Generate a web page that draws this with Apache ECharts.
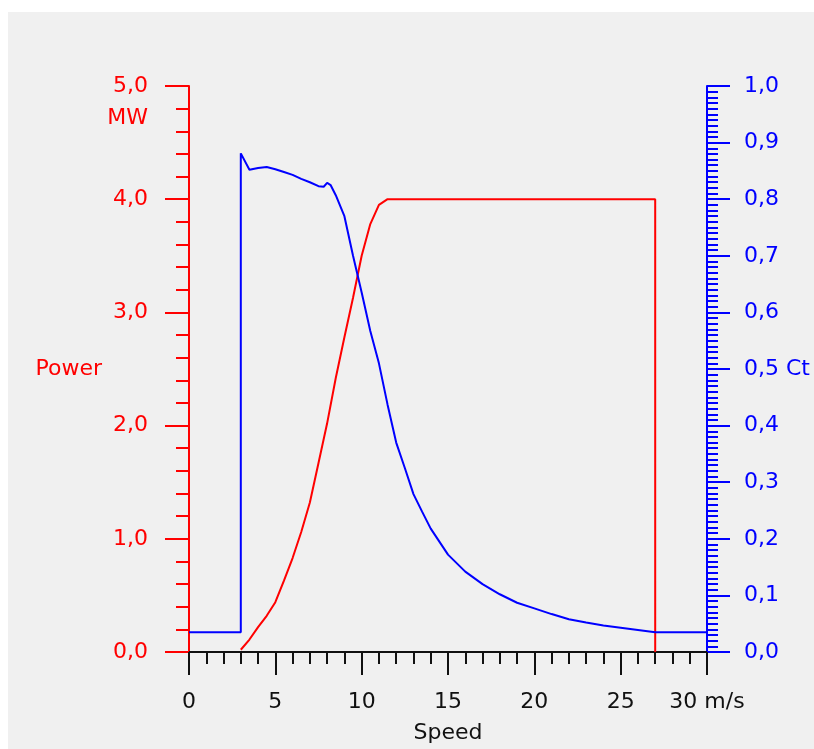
<!DOCTYPE html>
<html><head><meta charset="utf-8">
<script src="https://cdn.jsdelivr.net/npm/echarts@6/dist/echarts.min.js"></script>
<style>html,body{margin:0;padding:0;background:#fff}#c{width:814px;height:749px}</style>
</head><body><div id="c"></div>
<script>
// Power curve (MW) vs wind speed (m/s)
const powerSpeed = [3, 3.5, 4, 4.5, 5, 5.5, 6, 6.5, 7, 7.5, 8, 8.5, 9, 9.5, 10, 10.5, 11, 11.5, 27, 27];
const powerMW    = [0.02, 0.11, 0.22, 0.32, 0.44, 0.63, 0.83, 1.06, 1.32, 1.67, 2.02, 2.42, 2.78, 3.13, 3.50, 3.78, 3.95, 4.0, 4.0, 0];
// Thrust coefficient Ct vs wind speed
const ctSpeed = [0, 3, 3, 3.5, 4, 4.5, 5, 5.5, 6, 6.5, 7, 7.5, 7.8, 8, 8.2, 8.5, 9, 9.5, 10, 10.5, 11, 11.5, 12, 12.5, 13, 13.5, 14, 15, 16, 17, 18, 19, 20, 21, 22, 23, 24, 25, 26, 27, 30];
const ctValue = [0.035, 0.035, 0.881, 0.852, 0.855, 0.857, 0.853, 0.848, 0.843, 0.836, 0.830, 0.823, 0.822, 0.829, 0.825, 0.807, 0.770, 0.700, 0.635, 0.567, 0.510, 0.437, 0.370, 0.325, 0.279, 0.248, 0.218, 0.172, 0.142, 0.120, 0.102, 0.087, 0.077, 0.067, 0.058, 0.052, 0.047, 0.043, 0.039, 0.035, 0.035];
// Axis text
const xUnit = 'm/s';
const xName = 'Speed';
const yLeftName = 'Power';
const yLeftUnit = 'MW';
const yRightName = 'Ct';

const RED = '#ff0000', BLUE = '#0000ff', BLACK = '#111111';
const FONT = 'DejaVu Sans';
const FS = 22;
const comma = v => (Math.round(v * 10) / 10).toFixed(1).replace('.', ',');

const chart = echarts.init(document.getElementById('c'), null, {renderer: 'canvas'});
const option = {
  animation: false,
  backgroundColor: '#ffffff',
  textStyle: {fontFamily: FONT},
  grid: {left: 189, right: 107, top: 86, bottom: 89, containLabel: false},
  xAxis: {
    type: 'value', min: 0, max: 30, interval: 5,
    name: xName, nameLocation: 'middle', nameGap: 70,
    nameTextStyle: {color: BLACK, fontSize: FS, fontFamily: FONT},
    axisLine: {show: true, onZero: false, lineStyle: {color: BLACK, width: 2}},
    axisTick: {show: true, length: 23, lineStyle: {color: BLACK, width: 2}},
    minorTick: {show: true, splitNumber: 5, length: 12, lineStyle: {color: BLACK, width: 2}},
    axisLabel: {color: BLACK, fontSize: FS, fontFamily: FONT, margin: 39,
      formatter: v => v === 30 ? '30 ' + xUnit : String(v)},
    splitLine: {show: false}
  },
  yAxis: [{
    type: 'value', min: 0, max: 5, interval: 1, position: 'left',
    name: yLeftName, nameLocation: 'middle', nameGap: 87, nameRotate: 0,
    nameTextStyle: {color: RED, fontSize: FS, fontFamily: FONT},
    axisLine: {show: true, lineStyle: {color: RED, width: 2}},
    axisTick: {show: true, length: 24, lineStyle: {color: RED, width: 2}},
    minorTick: {show: true, splitNumber: 5, length: 13, lineStyle: {color: RED, width: 2}},
    axisLabel: {color: RED, fontSize: FS, fontFamily: FONT, margin: 41, formatter: v => comma(v)},
    splitLine: {show: false}
  }, {
    type: 'value', min: 0, max: 1, interval: 0.1, position: 'right',
    axisLine: {show: true, lineStyle: {color: BLUE, width: 2}},
    axisTick: {show: true, length: 23, lineStyle: {color: BLUE, width: 2}},
    minorTick: {show: true, splitNumber: 10, length: 11, lineStyle: {color: BLUE, width: 2}},
    axisLabel: {color: BLUE, fontSize: FS, fontFamily: FONT, margin: 37,
      formatter: v => Math.abs(v - 0.5) < 1e-9 ? comma(v) + ' ' + yRightName : comma(v)},
    splitLine: {show: false}
  }],
  series: [{
    type: 'line', name: yLeftName, yAxisIndex: 0, showSymbol: false, symbol: 'none',
    lineStyle: {color: RED, width: 2}, itemStyle: {color: RED},
    data: powerSpeed.map((s, i) => [s, powerMW[i]])
  }, {
    type: 'line', name: yRightName, yAxisIndex: 1, showSymbol: false, symbol: 'none',
    lineStyle: {color: BLUE, width: 2}, itemStyle: {color: BLUE},
    data: ctSpeed.map((s, i) => [s, ctValue[i]])
  }]
};
chart.setOption(option);
const topY = chart.convertToPixel({yAxisIndex: 0}, 5);
const axX = chart.convertToPixel({xAxisIndex: 0}, 0);
chart.setOption({graphic: [
  {type: 'rect', z: -10, silent: true, shape: {x: 8, y: 12, width: 806, height: 737}, style: {fill: '#f0f0f0'}},
  {type: 'text', z: 10, silent: true, x: axX - 41, y: topY + 32,
   style: {text: yLeftUnit, fill: RED, font: FS + 'px "' + FONT + '"', align: 'right', verticalAlign: 'middle'}}
]});
</script>
</body></html>
